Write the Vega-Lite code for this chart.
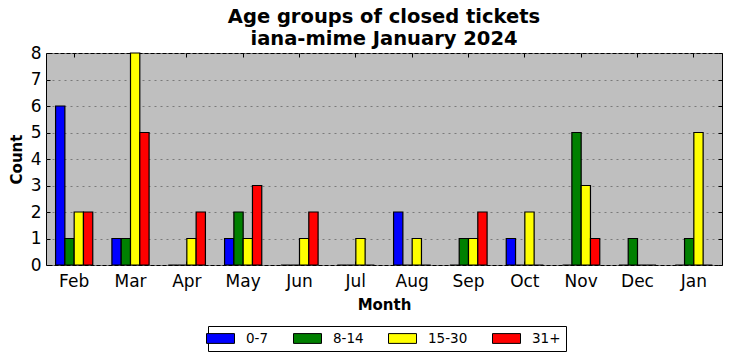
{
  "$schema": "https://vega.github.io/schema/vega-lite/v6.json",
  "autosize": "none",
  "width": 676,
  "height": 212,
  "padding": {"left": 46, "top": 53, "right": 10, "bottom": 96},
  "background": "white",
  "config": {
    "font": "DejaVu Sans",
    "view": {"fill": "#bfbfbf", "stroke": "black", "strokeWidth": 1},
    "axis": {"labelFont": "DejaVu Sans", "labelFontSize": 17, "labelColor": "black", "titleFont": "DejaVu Sans"}
  },
  "title": {
    "text": ["Age groups of closed tickets", "iana-mime January 2024"],
    "fontSize": 19.5,
    "fontWeight": "bold",
    "font": "DejaVu Sans",
    "color": "black",
    "anchor": "middle",
    "lineHeight": 22,
    "offset": -5
  },
  "data": {
    "values": [
      {"month": "Feb", "group": "0-7", "count": 6},
      {"month": "Feb", "group": "8-14", "count": 1},
      {"month": "Feb", "group": "15-30", "count": 2},
      {"month": "Feb", "group": "31+", "count": 2},
      {"month": "Mar", "group": "0-7", "count": 1},
      {"month": "Mar", "group": "8-14", "count": 1},
      {"month": "Mar", "group": "15-30", "count": 8},
      {"month": "Mar", "group": "31+", "count": 5},
      {"month": "Apr", "group": "0-7", "count": 0},
      {"month": "Apr", "group": "8-14", "count": 0},
      {"month": "Apr", "group": "15-30", "count": 1},
      {"month": "Apr", "group": "31+", "count": 2},
      {"month": "May", "group": "0-7", "count": 1},
      {"month": "May", "group": "8-14", "count": 2},
      {"month": "May", "group": "15-30", "count": 1},
      {"month": "May", "group": "31+", "count": 3},
      {"month": "Jun", "group": "0-7", "count": 0},
      {"month": "Jun", "group": "8-14", "count": 0},
      {"month": "Jun", "group": "15-30", "count": 1},
      {"month": "Jun", "group": "31+", "count": 2},
      {"month": "Jul", "group": "0-7", "count": 0},
      {"month": "Jul", "group": "8-14", "count": 0},
      {"month": "Jul", "group": "15-30", "count": 1},
      {"month": "Jul", "group": "31+", "count": 0},
      {"month": "Aug", "group": "0-7", "count": 2},
      {"month": "Aug", "group": "8-14", "count": 0},
      {"month": "Aug", "group": "15-30", "count": 1},
      {"month": "Aug", "group": "31+", "count": 0},
      {"month": "Sep", "group": "0-7", "count": 0},
      {"month": "Sep", "group": "8-14", "count": 1},
      {"month": "Sep", "group": "15-30", "count": 1},
      {"month": "Sep", "group": "31+", "count": 2},
      {"month": "Oct", "group": "0-7", "count": 1},
      {"month": "Oct", "group": "8-14", "count": 0},
      {"month": "Oct", "group": "15-30", "count": 2},
      {"month": "Oct", "group": "31+", "count": 0},
      {"month": "Nov", "group": "0-7", "count": 0},
      {"month": "Nov", "group": "8-14", "count": 5},
      {"month": "Nov", "group": "15-30", "count": 3},
      {"month": "Nov", "group": "31+", "count": 1},
      {"month": "Dec", "group": "0-7", "count": 0},
      {"month": "Dec", "group": "8-14", "count": 1},
      {"month": "Dec", "group": "15-30", "count": 0},
      {"month": "Dec", "group": "31+", "count": 0},
      {"month": "Jan", "group": "0-7", "count": 0},
      {"month": "Jan", "group": "8-14", "count": 1},
      {"month": "Jan", "group": "15-30", "count": 5},
      {"month": "Jan", "group": "31+", "count": 0}
    ]
  },
  "layer": [
    {
      "mark": {"type": "bar", "stroke": "black", "strokeWidth": 1.2, "opacity": 1},
      "encoding": {
        "x": {
          "field": "month", "type": "nominal",
          "sort": ["Feb","Mar","Apr","May","Jun","Jul","Aug","Sep","Oct","Nov","Dec","Jan"],
          "scale": {"paddingInner": 0.34, "paddingOuter": 0.17},
          "axis": {
            "orient": "bottom", "title": "Month", "titleFontSize": 15, "titleFontWeight": "bold",
            "titleColor": "black", "titlePadding": 8,
            "labelAngle": 0, "labelFontSize": 17, "labelColor": "black", "labelPadding": 12,
            "tickSize": -4, "tickColor": "black", "domain": false, "grid": false
          }
        },
        "xOffset": {
          "field": "group", "type": "nominal",
          "sort": ["0-7","8-14","15-30","31+"]
        },
        "y": {
          "field": "count", "type": "quantitative",
          "scale": {"domain": [0, 8], "nice": false},
          "axis": {
            "orient": "left", "title": "Count", "titleFontSize": 15, "titleFontWeight": "bold",
            "titleColor": "black", "titlePadding": 6,
            "values": [0,1,2,3,4,5,6,7,8], "format": "d",
            "labelFontSize": 17, "labelColor": "black", "labelPadding": 9,
            "tickSize": -4, "tickColor": "black", "domain": false,
            "grid": true, "gridColor": "#7a7a7a", "gridDash": [2, 4], "gridWidth": 1
          }
        },
        "color": {
          "field": "group", "type": "nominal",
          "sort": ["0-7","8-14","15-30","31+"],
          "scale": {"domain": ["0-7","8-14","15-30","31+"], "range": ["#0000ff","#008000","#ffff00","#ff0000"]},
          "legend": {
            "title": null, "orient": "none", "legendX": 162, "legendY": 273,
            "direction": "horizontal", "columns": 4, "gridAlign": "none", "columnPadding": 22,
            "symbolType": "M-2,-0.7H2V0.7H-2Z", "symbolSize": 196,
            "symbolStrokeColor": "black", "symbolStrokeWidth": 1, "symbolOpacity": 1,
            "labelFontSize": 13.5, "labelColor": "black", "labelOffset": 18,
            "strokeColor": "black", "fillColor": "white", "padding": 5, "cornerRadius": 0
          }
        }
      }
    },
    {
      "mark": {"type": "bar", "opacity": 0},
      "encoding": {
        "x": {
          "field": "month", "type": "nominal",
          "sort": ["Feb","Mar","Apr","May","Jun","Jul","Aug","Sep","Oct","Nov","Dec","Jan"],
          "axis": {"orient": "top", "title": null, "labels": false, "tickSize": -4, "tickColor": "black", "domain": false, "grid": false}
        },
        "xOffset": {"field": "group", "type": "nominal", "sort": ["0-7","8-14","15-30","31+"]},
        "y": {
          "field": "count", "type": "quantitative",
          "axis": {"orient": "right", "title": null, "labels": false, "values": [0,1,2,3,4,5,6,7,8], "tickSize": -4, "tickColor": "black", "domain": false, "grid": false}
        }
      }
    }
  ],
  "resolve": {"axis": {"x": "independent", "y": "independent"}}
}
